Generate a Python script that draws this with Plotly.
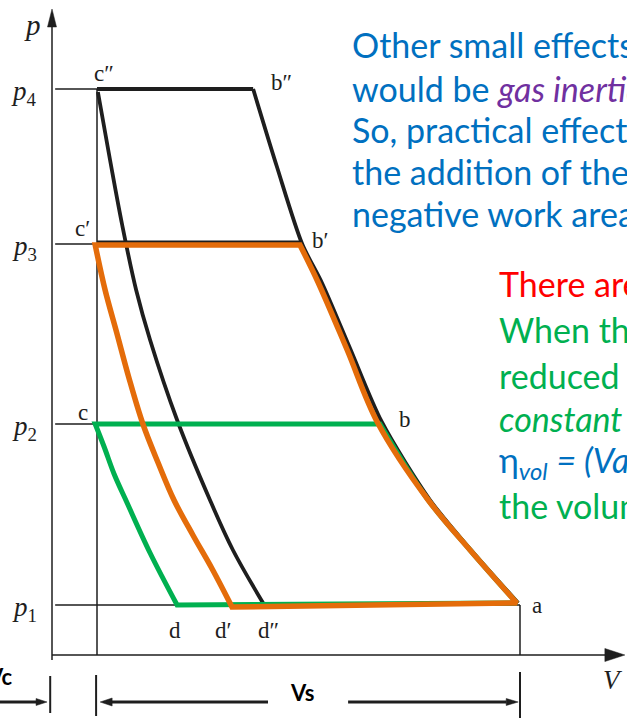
import plotly.graph_objects as go

W, H = 627, 718

# diagram units: V in clearance volumes (Vc = 1), p in suction pressures (p1 = 1)
PX_V = 45.0   # screen px per V unit
PX_P = 50.0   # screen px per p unit
V_RANGE = [-52 / PX_V, (W - 52) / PX_V]
P_RANGE = [-(H - 655) / PX_P, 655 / PX_P]

INK = "#1e1e1e"
ORANGE = "#E46C0A"
GREEN = "#00B050"
BLUE = "#0070C0"
PURPLE = "#7030A0"
RED = "#FF0000"

# pressure levels and volumes
p_levels = [1.00, 4.62, 8.22, 11.32]
p_level_digits = ["1", "2", "3", "4"]
V_clear = 1.0
V_a = 10.4

# printed diagram: delivery at p4 (c''-b''), compression a-b-b'-b'', re-expansion c''-d''
black_top_V = [1.00, 4.47]
black_comp_V = [4.47, 5.00, 5.56, 6.00, 6.62, 7.33, 8.40, 9.33, 10.36]
black_comp_p = [11.32, 9.76, 8.22, 7.44, 6.14, 4.66, 3.10, 2.08, 1.04]
black_exp_V = [1.02, 1.29, 1.56, 1.87, 2.18, 2.78, 3.51, 4.02, 4.69]
black_exp_p = [11.26, 9.90, 8.60, 7.30, 6.30, 4.70, 3.10, 2.10, 1.04]

# green cycle c-b-a-d (delivery at p2)
green_V = [0.96, 7.29, 8.36, 9.29, 10.33, 2.78, 2.18, 1.67, 1.38, 1.16, 0.96]
green_p = [4.62, 4.62, 3.10, 2.10, 1.04, 1.00, 2.04, 3.04, 3.62, 4.16, 4.62]
green_corners = [0, 1, 4, 5, 10]

# orange cycle c'-b'-a-d' (delivery at p3)
orange_V = [0.96, 5.51, 5.91, 6.56, 7.24, 8.36, 9.29, 10.33,
            4.00, 3.56, 3.13, 2.71, 2.36, 2.02, 1.71, 1.44, 1.18, 0.96]
orange_p = [8.20, 8.20, 7.46, 6.10, 4.64, 3.10, 2.10, 1.04,
            0.96, 1.72, 2.40, 3.10, 3.84, 4.62, 5.54, 6.44, 7.30, 8.20]
orange_corners = [0, 1, 7, 8, 17]

# point labels: (text, V, p)
point_labels = [
    ("c\u2033", 1.16, 11.64), ("b\u2033", 5.11, 11.45),
    ("c\u2032", 0.67, 8.54), ("b\u2032", 5.96, 8.30),
    ("c", 0.69, 4.86), ("b", 7.84, 4.72), ("a", 10.78, 1.00),
    ("d", 2.73, 0.50), ("d\u2032", 3.80, 0.50), ("d\u2033", 4.80, 0.50),
]

# slide text: blue note block and the right-hand block
blue_lines = [
    "Other small effects",
    f'would be <span style="color:{PURPLE}"><i>gas inertia</i></span>',
    "So, practical effects",
    "the addition of these",
    "negative work area",
]
blue_y = [45, 88, 130, 172, 214]
right_lines = [
    ("There are", RED, 283),
    ("When the", GREEN, 330),
    ("reduced", GREEN, 375),
    ("<i>constant</i>", GREEN, 418),
    ("\u03b7<sub><i>vol</i></sub> <i>= (Va \u2013 Vd)/Vs</i>", BLUE, 462),
    ("the volume", GREEN, 505),
]


def corner_path(xs, ys, corners):
    """Repeat corner vertices so the spline keeps them sharp; retrace the first edge to close."""
    ox, oy = [], []
    for i, (x, y) in enumerate(zip(xs, ys)):
        ox.append(x)
        oy.append(y)
        if i in corners:
            ox.append(x)
            oy.append(y)
    ox.append(xs[1])
    oy.append(ys[1])
    return ox, oy


def seg(x0, y0, x1, y1, width=1.5, color=INK):
    return dict(type="line", xref="x", yref="y", x0=x0, y0=y0, x1=x1, y1=y1,
                line=dict(color=color, width=width), layer="below")


def head(xt, yt, direction, length_px, width_px, color=INK):
    """Filled arrowhead with its tip at (xt, yt)."""
    L_v, L_p = length_px / PX_V, length_px / PX_P
    w_v, w_p = width_px / 2 / PX_V, width_px / 2 / PX_P
    if direction == "right":
        pts = [(xt, yt), (xt - L_v, yt + w_p), (xt - L_v, yt - w_p)]
    elif direction == "left":
        pts = [(xt, yt), (xt + L_v, yt + w_p), (xt + L_v, yt - w_p)]
    else:  # up
        pts = [(xt, yt), (xt - w_v, yt - L_p), (xt + w_v, yt - L_p)]
    path = "M " + " L ".join(f"{x:.4f},{y:.4f}" for x, y in pts) + " Z"
    return dict(type="path", xref="x", yref="y", path=path,
                fillcolor=color, line=dict(color=color, width=0.5))


fig = go.Figure()

# thick printed curves
fig.add_trace(go.Scatter(x=black_top_V, y=[p_levels[3]] * 2, mode="lines",
                         line=dict(color=INK, width=3.8)))
fig.add_trace(go.Scatter(x=black_comp_V, y=black_comp_p, mode="lines",
                         line=dict(color=INK, width=3.8, shape="spline", smoothing=0.8)))
fig.add_trace(go.Scatter(x=black_exp_V, y=black_exp_p, mode="lines",
                         line=dict(color=INK, width=3.8, shape="spline", smoothing=1.0)))
fig.add_trace(go.Scatter(x=[V_clear, black_comp_V[2]], y=[p_levels[2] + 0.04] * 2, mode="lines",
                         line=dict(color=INK, width=3)))

gx, gy = corner_path(green_V, green_p, green_corners)
fig.add_trace(go.Scatter(x=gx, y=gy, mode="lines",
                         line=dict(color=GREEN, width=5, shape="spline", smoothing=1.0,
                                   simplify=False)))
ox, oy = corner_path(orange_V, orange_p, orange_corners)
fig.add_trace(go.Scatter(x=ox, y=oy, mode="lines",
                         line=dict(color=ORANGE, width=5.5, shape="spline", smoothing=1.0,
                                   simplify=False)))

shapes = []
# axes
shapes.append(seg(0, -0.1, 0, 12.6))
shapes.append(seg(0, 0, 12.4, 0))
shapes.append(head(0, 12.92, "up", 18, 9))
shapes.append(head(12.73, 0, "right", 20, 13))
# pressure level guide lines
for p in p_levels[1:]:
    shapes.append(seg(0.07, p, V_clear, p))
shapes.append(seg(0.07, p_levels[0], V_a, p_levels[0]))
# clearance volume line and end of stroke
shapes.append(seg(V_clear, 0, V_clear, p_levels[3]))
shapes.append(seg(V_a, 0, V_a, p_levels[0]))

# dimension line: Vc and Vs
dim_p = -0.94
shapes.append(seg(-0.04, -0.42, -0.04, -1.16, width=2))
shapes.append(seg(0.98, -0.40, 0.98, -1.22, width=2))
shapes.append(seg(V_a, -0.34, V_a, -1.26, width=2))
shapes.append(seg(-1.2, dim_p, -0.30, dim_p, width=3))
shapes.append(head(-0.11, dim_p, "right", 11, 7))
shapes.append(seg(1.30, dim_p, 4.80, dim_p, width=3))
shapes.append(head(1.07, dim_p, "left", 12, 8))
shapes.append(seg(6.58, dim_p, 10.10, dim_p, width=3))
shapes.append(head(10.36, dim_p, "right", 12, 7))

annotations = []
serif = dict(family="Liberation Serif", color=INK)
annotations.append(dict(x=-0.44, y=12.6, xref="x", yref="y", text="<i>p</i>",
                        showarrow=False, font=dict(size=29, **serif)))
for p, dig in zip(p_levels, p_level_digits):
    annotations.append(dict(x=-0.62, y=p - 0.08, xref="x", yref="y",
                            text=f"<i>p</i><sub>{dig}</sub>",
                            showarrow=False, font=dict(size=27, **serif)))
for txt, v, p in point_labels:
    annotations.append(dict(x=v, y=p, xref="x", yref="y", text=txt,
                            showarrow=False, font=dict(size=23, **serif)))
annotations.append(dict(x=12.47, y=-0.5, xref="x", yref="y", text="<i>V</i>",
                        showarrow=False, font=dict(size=27, **serif)))

sans = "Lato, 'Open Sans', sans-serif"
annotations.append(dict(x=15 / W, y=1 - 676 / H, xref="paper", yref="paper",
                        xanchor="right", yanchor="middle", text="<b>Vc</b>",
                        showarrow=False, font=dict(family=sans, size=22, color="#000")))
annotations.append(dict(x=302 / W, y=1 - 692 / H, xref="paper", yref="paper",
                        xanchor="center", yanchor="middle", text="<b>Vs</b>",
                        showarrow=False, font=dict(family=sans, size=22, color="#000")))

for txt, yc in zip(blue_lines, blue_y):
    annotations.append(dict(x=350 / W, y=1 - yc / H, xref="paper", yref="paper",
                            xanchor="left", yanchor="middle", text=txt, showarrow=False,
                            font=dict(family=sans, size=34, color=BLUE)))
for txt, col, yc in right_lines:
    annotations.append(dict(x=497 / W, y=1 - yc / H, xref="paper", yref="paper",
                            xanchor="left", yanchor="middle", text=txt, showarrow=False,
                            font=dict(family=sans, size=34, color=col)))

fig.update_layout(
    width=W, height=H,
    margin=dict(l=0, r=0, t=0, b=0),
    paper_bgcolor="white", plot_bgcolor="white",
    showlegend=False,
    xaxis=dict(range=V_RANGE, visible=False, fixedrange=True),
    yaxis=dict(range=P_RANGE, visible=False, fixedrange=True),
    shapes=shapes,
    annotations=annotations,
)

fig.write_html("out.html")
